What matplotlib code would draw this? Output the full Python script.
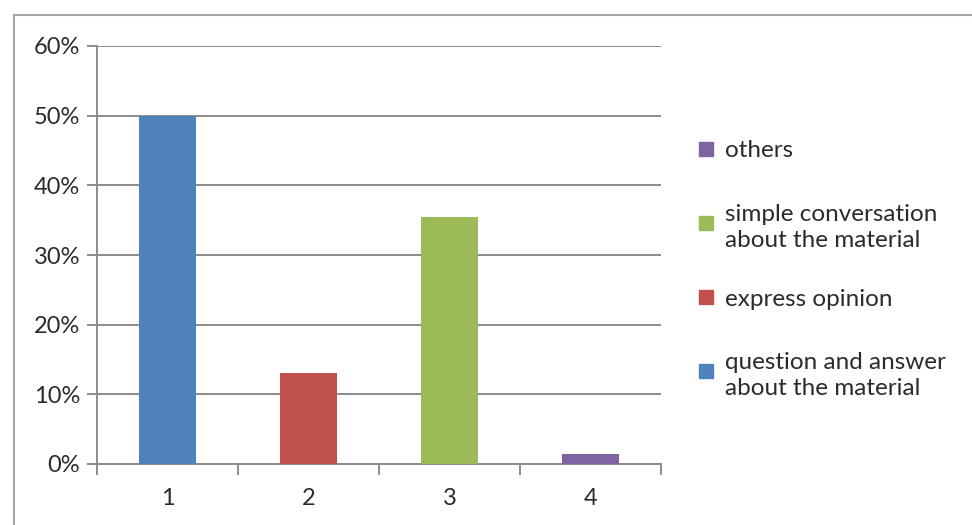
import matplotlib.pyplot as plt
from matplotlib.lines import Line2D
from matplotlib.patches import Rectangle

plt.rcParams['font.family'] = ['Lato', 'DejaVu Sans']

categories = [1, 2, 3, 4]
values = [50, 13, 35.5, 1.5]
series_labels = ["question and answer\nabout the material", "express opinion",
                 "simple conversation\nabout the material", "others"]
colors = ["#4F81BD", "#C0504D", "#9BBB59", "#8064A2"]

W, H = 972, 525
fig = plt.figure(figsize=(W / 100, H / 100), dpi=100)
ax = fig.add_axes([97 / W, 1 - 464 / H, (661 - 97) / W, (464 - 46) / H])

ax.bar(categories, values, width=0.4, color=colors, zorder=3)

ax.set_xlim(0.5, 4.5)
ax.set_ylim(0, 60)
ax.set_yticks(range(0, 61, 10))
ax.yaxis.set_major_formatter(lambda v, p: f"{v:.0f}%")
ax.yaxis.grid(True, color="#8c8c8c", lw=1.4)
ax.set_axisbelow(True)

# category boundaries get the tick marks, labels sit in between
ax.set_xticks([0.5, 1.5, 2.5, 3.5, 4.5])
ax.set_xticklabels([])
ax.set_xticks(categories, minor=True)
ax.set_xticklabels([str(c) for c in categories], minor=True)
ax.tick_params(axis="x", which="major", length=8, width=1.4, color="#8c8c8c")
ax.tick_params(axis="x", which="minor", length=0, pad=17, labelsize=17, labelcolor="#2b2b2b")
ax.tick_params(axis="y", length=7, width=1.4, color="#8c8c8c", pad=5,
               labelsize=17, labelcolor="#2b2b2b")

for s in ["top", "right"]:
    ax.spines[s].set_visible(False)
for s in ["left", "bottom"]:
    ax.spines[s].set_color("#8c8c8c")
    ax.spines[s].set_linewidth(1.4)

# legend on the right, last series on top
legend_y = [149, 223, 297, 371]
for k, i in enumerate(reversed(range(len(series_labels)))):
    yc = legend_y[k]
    fig.add_artist(Rectangle((699 / W, 1 - (yc + 7) / H), 14 / W, 14 / H,
                             transform=fig.transFigure, color=colors[i]))
    fig.text(725 / W, 1 - yc / H, series_labels[i], fontsize=17.5, color="#2b2b2b",
             va="center_baseline", ha="left", linespacing=1.3)

# chart frame
fig.add_artist(Line2D([14 / W, 14 / W], [0, 1 - 15 / H], color="#a6a6a6", lw=1.5))
fig.add_artist(Line2D([14 / W, 1], [1 - 15 / H, 1 - 15 / H], color="#a6a6a6", lw=1.5))

fig.savefig("out.png", dpi=100)
